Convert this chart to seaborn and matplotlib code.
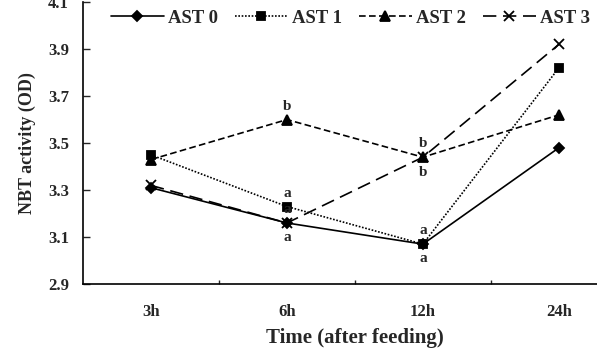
import numpy as np
import pandas as pd
import seaborn as sns
import matplotlib
matplotlib.use("Agg")
import matplotlib.pyplot as plt

# DATA
times = ["3h", "6h", "12h", "24h"]
groups = ["AST 0", "AST 1", "AST 2", "AST 3"]
ast0 = [3.31, 3.16, 3.07, 3.48]
ast1 = [3.45, 3.23, 3.07, 3.82]
ast2 = [3.43, 3.60, 3.44, 3.62]
ast3 = [3.32, 3.16, 3.44, 3.92]

# significance letters: (time, group, letter, above/below)
letters = [
    ("6h", "AST 2", "b", "above"),
    ("6h", "AST 1", "a", "above"),
    ("6h", "AST 3", "a", "above"),
    ("6h", "AST 0", "a", "below"),
    ("12h", "AST 2", "b", "above"),
    ("12h", "AST 3", "b", "below"),
    ("12h", "AST 1", "a", "above"),
    ("12h", "AST 0", "a", "below"),
]

series = dict(zip(groups, [ast0, ast1, ast2, ast3]))

sns.set_style("white")
plt.rcParams["font.family"] = ["Liberation Serif", "DejaVu Serif"]
plt.rcParams["font.weight"] = "bold"

fig = plt.figure(figsize=(5.97, 3.52), dpi=100)
ax = fig.add_axes([0.139, 0.193, 0.911, 0.801])

markers = {"AST 0": "D", "AST 1": "s", "AST 2": "^", "AST 3": "x"}
linestyles = {"AST 0": "-", "AST 1": (0, (1, 1)), "AST 2": (0, (4, 2)), "AST 3": (0, (8, 4))}
sizes = {"AST 0": 5, "AST 1": 6, "AST 2": 7, "AST 3": 7}

for g in groups:
    d = pd.DataFrame({"time": times, "nbt": series[g]})
    sns.lineplot(data=d, x="time", y="nbt", color="black", sort=False,
                 marker=markers[g], markersize=sizes[g], linestyle=linestyles[g],
                 markeredgecolor="black", markeredgewidth=1.3, linewidth=1.2,
                 label=g, ax=ax)

for t, g, lab, side in letters:
    i = times.index(t)
    v = series[g][i]
    off = 5 if side == "above" else -6
    ax.annotate(lab, (i, v), xytext=(0, off), textcoords="offset points",
                ha="center", va="bottom" if side == "above" else "top",
                fontsize=11, fontweight="bold")

ax.set_xlim(-0.5, 3.5)
ax.set_ylim(2.9, 4.1)
yt = np.arange(2.9, 4.11, 0.2)
ax.set_yticks(yt)
ax.set_yticklabels([f"{v:.1f}" for v in yt], fontsize=12, fontweight="bold")
ax.set_xticks(range(len(times)))
ax.set_xticklabels(times, fontsize=12, fontweight="bold")
ax.set_xticks([0.5, 1.5, 2.5], minor=True)
ax.tick_params(axis="x", which="major", length=0, pad=14)
ax.tick_params(axis="x", which="minor", direction="in", length=3, width=1, bottom=True)
ax.tick_params(axis="y", direction="in", length=5, width=1, left=True, pad=10)

for s in ["top", "right"]:
    ax.spines[s].set_visible(False)
for s in ["left", "bottom"]:
    ax.spines[s].set_color("black")
    ax.spines[s].set_linewidth(1.2)

ax.set_xlabel("Time (after feeding)", fontsize=15, fontweight="bold", labelpad=6)
ax.set_ylabel("NBT activity (OD)", fontsize=13, fontweight="bold", labelpad=9)

handles, labels = ax.get_legend_handles_labels()
ax.legend(handles, labels, ncol=4, loc="center left",
          bbox_to_anchor=(111 / 597, 1 - 18 / 352), bbox_transform=fig.transFigure,
          frameon=False, borderpad=0, borderaxespad=0, handlelength=2.8,
          columnspacing=0.9, handletextpad=0.25,
          prop={"weight": "bold", "size": 13.5})

fig.savefig("out.png", dpi=100)
